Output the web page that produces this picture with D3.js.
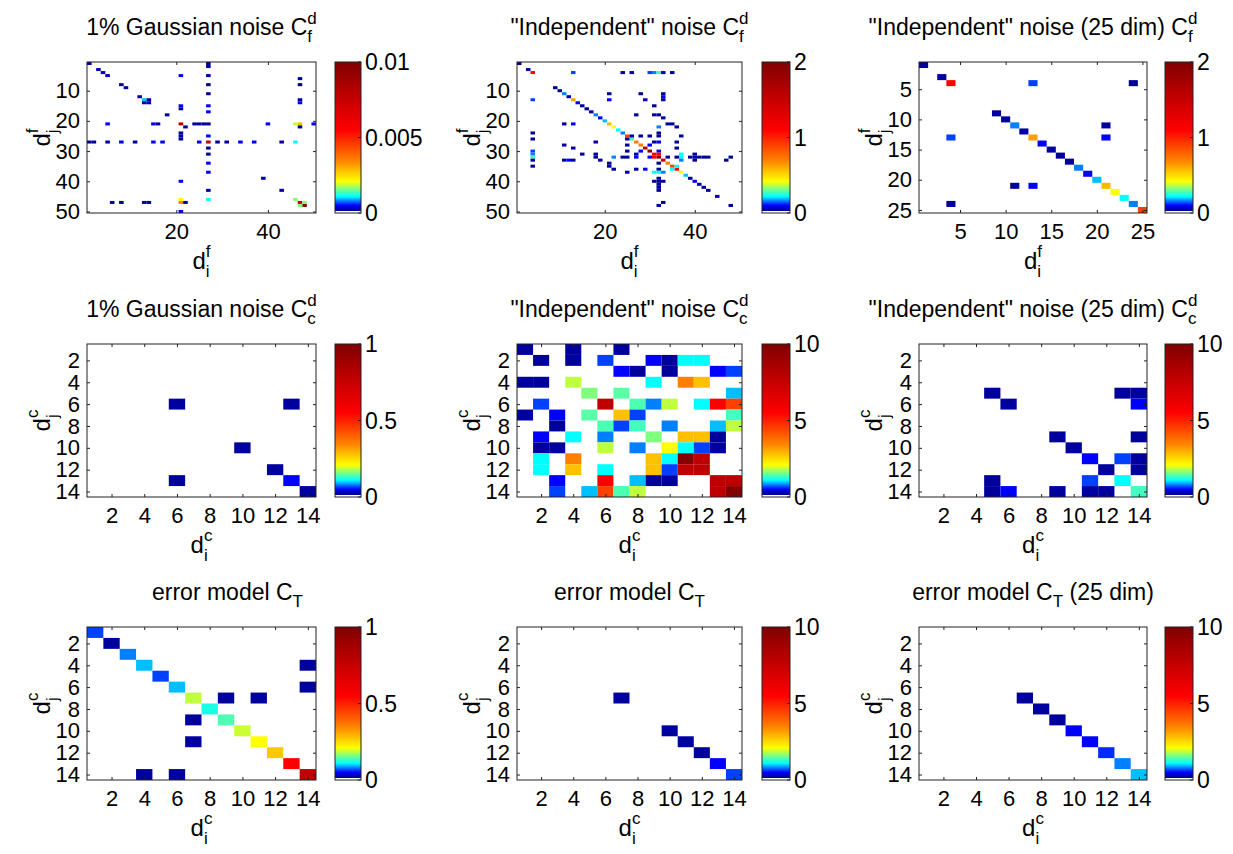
<!DOCTYPE html>
<meta charset="utf-8">
<style>
body { margin: 0; background: #fff; }
text { font-family: "Liberation Sans", Arial, sans-serif; fill: #000; }
.frame { fill: none; stroke: #222; stroke-width: 1; }
.axis path { display: none; }
.axis line { stroke: #222; }
</style>
<svg width="1233" height="854"></svg>
<script src="https://d3js.org/d3.v7.min.js"></script>
<script>

// ---- data: [i, j, value] cells (zero cells are blank) ----
var gaussF = [
  [1,1,.0002],[3,3,.0002],[4,4,.0002],[5,5,.0002],[8,8,.0002],[9,9,.0002],[12,12,.0002],
  [13,13,.00095],[14,13,.0002],[13,14,.0002],[14,14,.0002],[18,18,.0002],[21,21,.0078],
  [22,22,.0002],[27,27,.0078],[39,39,.0002],[43,43,.0002],[46,46,.0016],[47,47,.0078],
  [48,48,.0098],[47,48,.0016],[48,47,.0016],
  [5,21,.0005],[15,21,.0005],[16,21,.0002],[24,21,.0002],[25,21,.0002],[26,21,.0002],
  [27,21,.0002],[40,21,.0005],[46,21,.00185],[47,21,.0028],[50,21,.0005],
  [21,5,.0005],[21,15,.0005],[21,16,.0002],[21,24,.0002],[21,25,.0002],[21,26,.0002],
  [21,40,.0005],[21,46,.0021],[21,47,.0035],[21,50,.0005],[22,47,.0002],[47,22,.0002],
  [1,27,.0002],[2,27,.0002],[5,27,.0002],[8,27,.0005],[11,27,.0002],[15,27,.0005],
  [17,27,.0005],[25,27,.0005],[29,27,.0002],[31,27,.0002],[34,27,.0005],[37,27,.0005],
  [43,27,.0002],[46,27,.0011],
  [27,1,.0002],[27,2,.0002],[27,5,.0002],[27,8,.0002],[27,11,.0002],[27,15,.0005],
  [27,17,.0005],[27,25,.0005],[27,29,.0002],[27,31,.0002],[27,34,.0005],[27,37,.0005],
  [27,43,.0002],[27,46,.0011],
  [47,6,.0002],[47,8,.0002],[47,13,.0002],[47,14,.0005],[6,47,.0002],[8,47,.0002],
  [13,47,.0002],[14,47,.0002]
];

var indepF = [
  [1,1,.04],[3,3,.04],[4,4,1.1],[9,9,.04],[10,10,.04],[11,11,.16],[12,12,.04],[13,13,.63],
  [14,14,.1],[15,15,.04],[16,16,.04],[17,17,.04],[18,18,.16],[19,19,.1],[20,20,.19],
  [21,21,.58],[22,22,.42],[23,23,.22],[24,24,.16],[25,25,.9],[26,26,.27],[27,27,.7],
  [28,28,.7],[29,29,1.56],[30,30,1.96],[31,31,1.1],[32,32,1.96],[33,33,1.56],[34,34,.7],
  [35,35,.9],[36,36,1.1],[37,37,.42],[38,38,.19],[39,39,.04],[40,40,.1],[41,41,.04],
  [42,42,.04],[43,43,.04],[45,45,.04],[48,48,.04],
  [13,4,.13],[4,13,.13],[24,4,.04],[4,24,.04],[26,4,.04],[4,26,.04],[30,4,.13],[4,30,.13],
  [31,4,.16],[4,31,.16],[32,4,.27],[4,32,.27],[33,4,.04],[4,33,.04],[35,4,.04],[4,35,.04],
  [21,11,.04],[11,21,.04],[21,13,.1],[13,21,.1],[28,11,.04],[11,28,.04],[29,13,.04],[13,29,.04],
  [33,11,.04],[33,12,.1],[33,13,.04],[11,33,.04],[12,33,.1],[13,33,.04],
  [31,15,.04],[15,31,.04],[27,18,.04],[18,27,.04],[31,18,.04],[32,18,.04],[18,31,.04],[18,32,.04],
  [33,19,.04],[19,33,.04],[34,21,.04],[35,21,.04],[21,34,.04],[21,35,.04],[36,22,.04],[22,36,.04],
  [37,25,.04],[25,37,.04],[32,22,.16],[22,32,.16],[32,24,.04],[24,32,.04],[32,25,.04],[25,32,.04],
  [26,25,.04],[25,26,.04],[28,25,.04],[25,28,.04],[30,25,.04],[25,30,.04],
  [27,32,.1],[32,27,.1],[30,32,.1],[32,30,.1],[31,32,1.1],[32,31,1.1],
  [36,27,.04],[27,36,.04],[36,29,.04],[29,36,.1],[31,27,.04],[27,31,.04],
  [34,32,.04],[32,34,.04],[36,32,.04],[32,36,.04],
  [39,32,.04],[40,32,.04],[41,32,.04],[42,32,.04],[43,32,.04],
  [32,39,.04],[32,40,.04],[32,41,.04],[32,42,.04],[32,43,.04],
  [40,31,.04],[40,33,.04],[31,40,.04],[33,40,.04],[48,32,.04],[32,48,.04],[33,47,.04],[47,33,.04],
  [31,37,.22],[32,37,.22],[33,37,.16],[37,31,.22],[37,32,.22],[37,33,.16],
  [35,36,.22],[36,35,.22],[28,30,.1],[30,28,.1]
];

var indep25F = [
  [1,1,.04],[3,3,.04],[4,4,1.1],[13,4,.13],[24,4,.04],[4,13,.13],[4,24,.04],
  [9,9,.04],[10,10,.04],[11,11,.16],[12,12,.04],[13,13,.63],[14,14,.1],[15,15,.04],
  [16,16,.04],[17,17,.04],[18,18,.16],[19,19,.1],[20,20,.19],[21,21,.58],[22,22,.42],
  [23,23,.22],[24,24,.16],[25,25,.9],[21,11,.04],[21,13,.1],[11,21,.04],[13,21,.1]
];

var gaussC = [[6,6,.02],[13,6,.02],[10,10,.02],[12,12,.02],[6,13,.02],[13,13,.05],[14,14,.02]];

var indepC = [
  [1,1,.2],[4,1,.2],[7,1,.2],
  [2,2,.2],[4,2,.2],[6,2,.65],[9,2,.5],[10,2,.2],[11,2,1.1],[12,2,1.1],
  [7,3,.5],[8,3,.2],[10,3,.2],[13,3,.5],[14,3,.65],
  [1,4,.2],[2,4,.2],[4,4,1.85],[9,4,1.1],[11,4,3.5],[12,4,2.8],
  [5,5,1.6],[7,5,1.45],[14,5,.95],
  [2,6,.65],[6,6,7.8],[8,6,1.4],[9,6,.8],[10,6,1.85],[12,6,1.1],[13,6,5.5],[14,6,4.5],
  [1,7,.2],[3,7,.5],[5,7,1.45],[7,7,2.8],[8,7,.65],[14,7,1.35],
  [3,8,.2],[6,8,1.4],[7,8,.65],[8,8,1.35],[10,8,.8],[13,8,.95],[14,8,1.85],
  [2,9,.5],[4,9,1.1],[6,9,.8],[9,9,1.6],[11,9,2.8],[12,9,2.8],[13,9,.2],
  [2,10,.2],[3,10,.2],[6,10,1.85],[8,10,.8],[10,10,2.1],[11,10,1.1],[12,10,.65],[13,10,.2],
  [2,11,1.1],[4,11,3.5],[9,11,2.8],[10,11,1.1],[11,11,9.8],[12,11,7.8],
  [2,12,1.1],[4,12,2.8],[6,12,1.1],[9,12,2.8],[10,12,.65],[11,12,7.8],[12,12,7.8],
  [3,13,.5],[6,13,5.5],[8,13,.95],[9,13,.2],[10,13,.2],[13,13,7.8],[14,13,7.8],
  [3,14,.65],[5,14,.95],[6,14,4.5],[7,14,1.4],[8,14,1.85],[13,14,7.8],[14,14,9.8]
];

var indep25C = [
  [5,5,.2],[6,6,.2],[13,5,.2],[14,5,.2],[14,6,.5],[9,9,.2],[14,9,.2],[10,10,.2],[11,11,.5],
  [13,11,.65],[14,11,.2],[12,12,.2],[14,12,.2],[5,13,.2],[11,13,.65],[13,13,1.1],[5,14,.2],
  [6,14,.5],[9,14,.2],[11,14,.2],[12,14,.2],[14,14,1.35]
];

var errT = [
  [1,1,.065],[2,2,.02],[3,3,.08],[4,4,.095],[5,5,.065],[6,6,.095],[7,7,.185],[8,8,.12],
  [9,9,.14],[10,10,.19],[11,11,.21],[12,12,.27],[13,13,.55],[14,14,.78],
  [14,4,.02],[14,6,.02],[9,7,.02],[11,7,.02],[7,9,.02],[7,11,.02],[4,14,.02],[6,14,.02]
];
var errT2 = [[7,7,.2],[10,10,.2],[11,11,.2],[12,12,.2],[13,13,.5],[14,14,.65]];
var errT25 = [[7,7,.2],[8,8,.2],[9,9,.2],[10,10,.5],[11,11,.5],[12,12,.6],[13,13,.8],[14,14,.95]];

var sizes = [50, 50, 25, 14, 14, 14, 14, 14, 14];
var cmax = [0.01, 2, 2, 1, 10, 10, 1, 10, 10];
var ticks50 = [10, 20, 30, 40, 50], ticksX50 = [20, 40];
var ticks25 = [5, 10, 15, 20, 25];
var ticks14 = [2, 4, 6, 8, 10, 12, 14];
var cbLabels = [["0","0.005","0.01"],["0","1","2"],["0","1","2"],["0","0.5","1"],["0","5","10"],
                ["0","5","10"],["0","0.5","1"],["0","5","10"],["0","5","10"]];
var titles = [
  ["1% Gaussian noise C","f","d",""],
  ["\"Independent\" noise C","f","d",""],
  ["\"Independent\" noise (25 dim) C","f","d",""],
  ["1% Gaussian noise C","c","d",""],
  ["\"Independent\" noise C","c","d",""],
  ["\"Independent\" noise (25 dim) C","c","d",""],
  ["error model C","T","",""],
  ["error model C","T","",""],
  ["error model C","T",""," (25 dim)"]
];
var cells = [gaussF, indepF, indep25F, gaussC, indepC, indep25C, errT, errT2, errT25];

// ---- colour map: jet, stretched towards the low end, lowest 1/64 white ----
var cmapPos = [0.016, 0.05, 0.11, 0.21, 0.35, 0.55, 1];
var cmapCol = ["#00008f", "#0000ff", "#00ffff", "#ffff00", "#ff8000", "#ff0000", "#800000"];
var jet = d3.scaleLinear().domain(cmapPos).range(cmapCol).clamp(true);
function colour(f) { return f < 1 / 64 ? "#fff" : jet(f); }

// ---- layout ----
var cols = [{x0: 87, x1: 316, c0: 335, c1: 361},
            {x0: 517, x1: 742, c0: 762, c1: 790},
            {x0: 919, x1: 1147, c0: 1165, c1: 1193}];
var rows = [{y0: 62, y1: 213, t: 35}, {y0: 344, y1: 497, t: 317}, {y0: 627, y1: 780, t: 600}];
var titleShift = [0, 0, 0, 0, 0, 0, 26, 0, 0];
var fs = 22, fsTitle = 23, fsBar = 23;

var svg = d3.select("svg");

// vertical colour bar gradient (bottom -> top)
var grad = svg.append("defs").append("linearGradient")
    .attr("id", "jetbar").attr("x1", 0).attr("y1", 1).attr("x2", 0).attr("y2", 0);
grad.append("stop").attr("offset", 0).attr("stop-color", "#fff");
grad.append("stop").attr("offset", 1 / 64).attr("stop-color", "#fff");
cmapPos.forEach(function(p, i) {
  grad.append("stop").attr("offset", Math.max(p, 1 / 64)).attr("stop-color", cmapCol[i]);
});

function rich(g, base, sub, sup, post, size) {
  var t = g.append("text").attr("font-size", size);
  var small = Math.round(size * 0.72), dn = size * 0.32, up = size * 0.5;
  t.append("tspan").text(base);
  var s = t.append("tspan").attr("font-size", small).attr("dy", dn).text(sub);
  var w = s.node().getComputedTextLength();
  if (sup) t.append("tspan").attr("font-size", small).attr("dx", -w).attr("dy", -(dn + up)).text(sup);
  if (post) t.append("tspan").attr("dy", sup ? up : -dn).text(post);
  return t;
}

cells.forEach(function(data, k) {
  var c = cols[k % 3], r = rows[Math.floor(k / 3)], n = sizes[k];
  var g = svg.append("g");
  var x = d3.scaleLinear().domain([0.5, n + 0.5]).range([c.x0, c.x1]);
  var y = d3.scaleLinear().domain([0.5, n + 0.5]).range([r.y0, r.y1]);
  var xt = n === 50 ? ticksX50 : n === 25 ? ticks25 : ticks14;
  var yt = n === 50 ? ticks50 : n === 25 ? ticks25 : ticks14;

  g.selectAll("rect.cell").data(data).enter().append("rect")
      .attr("class", "cell")
      .attr("x", function(d) { return x(d[0] - 0.5); })
      .attr("y", function(d) { return y(d[1] - 0.5); })
      .attr("width", x(1.5) - x(0.5))
      .attr("height", y(1.5) - y(0.5))
      .attr("fill", function(d) { return colour(d[2] / cmax[k]); });

  g.append("g").attr("class", "axis").attr("transform", "translate(0," + r.y1 + ")")
      .call(d3.axisBottom(x).tickValues(xt).tickSizeInner(-3).tickSizeOuter(0).tickPadding(10))
      .selectAll("text").attr("font-size", fs).attr("font-family", null);
  g.append("g").attr("class", "axis").attr("transform", "translate(" + c.x0 + ",0)")
      .call(d3.axisLeft(y).tickValues(yt).tickSizeInner(-3).tickSizeOuter(0).tickPadding(7))
      .selectAll("text").attr("font-size", fs).attr("font-family", null);
  g.append("g").attr("class", "axis").attr("transform", "translate(0," + r.y0 + ")")
      .call(d3.axisTop(x).tickValues(xt).tickSizeInner(-3).tickSizeOuter(0).tickFormat(""));
  g.append("g").attr("class", "axis").attr("transform", "translate(" + c.x1 + ",0)")
      .call(d3.axisRight(y).tickValues(yt).tickSizeInner(-3).tickSizeOuter(0).tickFormat(""));
  g.selectAll(".axis text").attr("fill", "#000");

  g.append("rect").attr("class", "frame")
      .attr("x", c.x0).attr("y", r.y0).attr("width", c.x1 - c.x0).attr("height", r.y1 - r.y0);

  // title
  var tt = titles[k];
  rich(g, tt[0], tt[1], tt[2], tt[3], fsTitle)
      .attr("x", (c.x0 + c.x1) / 2 + titleShift[k]).attr("y", r.t).attr("text-anchor", "middle");

  // axis labels
  var sup = k < 3 ? "f" : "c";
  rich(g, "d", "i", sup, "", 24)
      .attr("x", (c.x0 + c.x1) / 2).attr("y", r.y1 + 56).attr("text-anchor", "middle");
  rich(g, "d", "j", sup, "", 24)
      .attr("text-anchor", "middle")
      .attr("transform", "translate(" + (c.x0 - 37) + "," + ((r.y0 + r.y1) / 2) + ") rotate(-90)");

  // colour bar
  var cb = d3.scaleLinear().domain([0, 1]).range([r.y1, r.y0]);
  g.append("rect")
      .attr("x", c.c0).attr("y", r.y0).attr("width", c.c1 - c.c0).attr("height", r.y1 - r.y0)
      .attr("fill", "url(#jetbar)");
  g.append("rect").attr("class", "frame")
      .attr("x", c.c0).attr("y", r.y0).attr("width", c.c1 - c.c0).attr("height", r.y1 - r.y0);
  var vals = [0, 0.5, 1];
  g.selectAll("line.cbt").data(vals).enter().append("line")
      .attr("x1", c.c1 - 3).attr("x2", c.c1)
      .attr("y1", cb).attr("y2", cb).attr("stroke", "#222");
  g.selectAll("text.cbl").data(vals).enter().append("text")
      .attr("x", c.c1 + 4).attr("y", cb).attr("dy", "0.36em")
      .attr("font-size", fsBar)
      .text(function(v, i) { return cbLabels[k][i]; });
});

</script>
